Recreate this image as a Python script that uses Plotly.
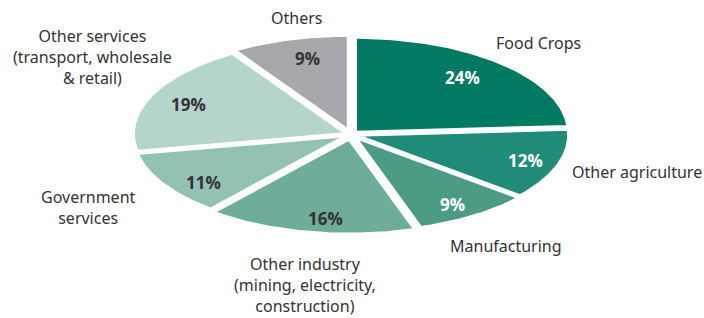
import numpy as np
import plotly.graph_objects as go

categories = ["Food Crops", "Other agriculture", "Manufacturing", "Other industry",
              "Government services", "Other services", "Others"]
values = [24, 12, 9, 16, 11, 19, 9]
colors = ["#007A63", "#208B78", "#4C9B87", "#6EAD9B", "#93C1B4", "#B5D4CB", "#A7A8AC"]
pct_text_colors = ["white", "white", "white", "#333333", "#333333", "#333333", "#333333"]

W, H = 704, 318
cx, cy = 351, 134.5
a, b = 212.7, 95
explode = 5
outline = 3

fig = go.Figure()
total = sum(values)
cum = 0
shapes_xy = []
for v in values:
    t0 = 2 * np.pi * cum / total
    t1 = 2 * np.pi * (cum + v) / total
    cum += v
    tm = (t0 + t1) / 2
    dx, dy = a * np.sin(tm), -b * np.cos(tm)
    n = np.hypot(dx, dy)
    ox, oy = cx + explode * dx / n, cy + explode * dy / n
    th = np.linspace(t0, t1, 80)
    xs = np.concatenate([[ox], ox + a * np.sin(th), [ox]])
    ys = np.concatenate([[oy], oy - b * np.cos(th), [oy]])
    shapes_xy.append((xs, ys))

for (xs, ys), c, name in zip(shapes_xy, colors, categories):
    fig.add_trace(go.Scatter(x=xs, y=ys, fill="toself", fillcolor=c, mode="lines",
                             line=dict(width=0, color=c), name=name, hoverinfo="name"))
for xs, ys in shapes_xy:
    fig.add_trace(go.Scatter(x=xs, y=ys, mode="lines", line=dict(width=outline, color="white"),
                             hoverinfo="skip"))

pct_pos = [(462, 77), (525, 160), (452, 204), (325, 218), (203, 182), (188, 104), (307, 58)]
for (x, y), v, tc in zip(pct_pos, values, pct_text_colors):
    fig.add_annotation(x=x, y=y, text=f"<b>{v}%</b>", showarrow=False,
                       font=dict(size=17, color=tc, family="Open Sans"))

label_texts = ["Food Crops", "Other agriculture", "Manufacturing",
               "Other industry<br>(mining, electricity,<br>construction)",
               "Government<br>services", "Other services<br>(transport, wholesale<br>& retail)", "Others"]
label_pos = [(538, 43, "center"), (637, 172, "center"), (506, 246, "center"),
             (305, 285, "center"), (88, 207, "center"), (92, 57, "center"), (296, 18, "center")]
for (x, y, xa), t in zip(label_pos, label_texts):
    fig.add_annotation(x=x, y=y, text=t, showarrow=False, align="center", xanchor=xa,
                       borderpad=0,
                       font=dict(size=16, color="#333333", family="Noto Sans"))

fig.update_layout(width=W, height=H, margin=dict(l=0, r=0, t=0, b=0),
                  paper_bgcolor="white", plot_bgcolor="white", showlegend=False,
                  xaxis=dict(range=[0, W], visible=False, fixedrange=True),
                  yaxis=dict(range=[H, 0], visible=False, fixedrange=True))
fig.write_html("out.html", config={"displayModeBar": False},
               post_script="document.body.style.margin='0';document.body.style.overflow='hidden';")
